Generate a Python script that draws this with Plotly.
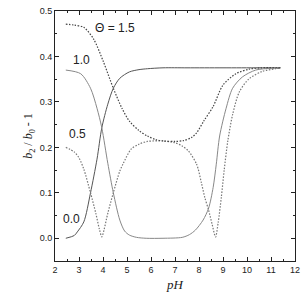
import plotly.graph_objects as go

# Theta = 0.0
ph_00 = [2.45, 2.8, 2.93, 3.2, 3.48, 3.75, 3.95, 4.2, 4.43, 4.7, 5.1, 5.5, 5.85, 6.5, 7.5, 9.0, 10.5, 11.4]
v_00 = [0.0, 0.006, 0.014, 0.036, 0.10, 0.174, 0.243, 0.295, 0.33, 0.352, 0.366, 0.371, 0.373, 0.375, 0.375, 0.375, 0.375, 0.375]

# Theta = 1.0
ph_10 = [2.45, 3.07, 3.48, 3.75, 3.95, 4.2, 4.43, 4.7, 4.9, 5.1, 5.4, 5.8, 6.5, 7.3, 7.6, 7.85, 8.17, 8.4, 8.59, 8.72, 8.86, 9.13, 9.4, 9.81, 10.36, 11.0, 11.4]
v_10 = [0.37, 0.362, 0.33, 0.286, 0.243, 0.165, 0.10, 0.04, 0.016, 0.007, 0.002, 0.0, 0.0, 0.002, 0.008, 0.018, 0.04, 0.066, 0.112, 0.163, 0.225, 0.286, 0.33, 0.355, 0.37, 0.374, 0.375]

# Theta = 0.5
ph_05 = [2.45, 2.8, 3.0, 3.2, 3.48, 3.7, 3.85, 3.95, 4.05, 4.2, 4.43, 4.7, 4.83, 5.17, 5.5, 5.85, 6.5, 7.0, 7.3, 7.56, 7.9, 8.1, 8.24, 8.4, 8.55, 8.69, 8.8, 8.93, 9.05, 9.2, 9.4, 9.68, 10.09, 10.63, 11.18, 11.4]
v_05 = [0.2, 0.19, 0.177, 0.152, 0.10, 0.055, 0.02, 0.003, 0.02, 0.055, 0.10, 0.148, 0.163, 0.196, 0.207, 0.213, 0.214, 0.21, 0.203, 0.192, 0.163, 0.122, 0.09, 0.062, 0.03, 0.003, 0.035, 0.09, 0.15, 0.214, 0.272, 0.322, 0.351, 0.367, 0.373, 0.375]

# Theta = 1.5
ph_15 = [2.45, 2.8, 3.2, 3.61, 4.02, 4.43, 4.8, 5.11, 5.5, 5.85, 6.2, 6.54, 7.0, 7.36, 7.7, 7.9, 8.2, 8.59, 9.0, 9.54, 10.09, 10.6, 11.4]
v_15 = [0.471, 0.469, 0.464, 0.438, 0.388, 0.33, 0.285, 0.257, 0.237, 0.225, 0.217, 0.214, 0.213, 0.215, 0.222, 0.232, 0.258, 0.29, 0.337, 0.362, 0.372, 0.375, 0.375]

labels = ["\u0398 = 1.5", "1.0", "0.5", "0.0"]

fig = go.Figure()
fig.add_trace(go.Scatter(x=ph_00, y=v_00, mode="lines", line=dict(color="#555555", width=1, shape="spline", smoothing=0.8)))
fig.add_trace(go.Scatter(x=ph_10, y=v_10, mode="lines", line=dict(color="#888888", width=1, shape="spline", smoothing=0.8)))
fig.add_trace(go.Scatter(x=ph_05, y=v_05, mode="lines", line=dict(color="#777777", width=1.2, dash="1.5px,1.5px", shape="spline", smoothing=0.8)))
fig.add_trace(go.Scatter(x=ph_15, y=v_15, mode="lines", line=dict(color="#444444", width=1.2, dash="1.5px,1.5px", shape="spline", smoothing=0.8)))

lab_font = dict(family="Liberation Sans, Arial", size=12, color="#222222")
fig.add_annotation(x=3.6, y=0.462, text=labels[0], showarrow=False, xanchor="left", font=lab_font)
fig.add_annotation(x=2.65, y=0.392, text=labels[1], showarrow=False, xanchor="left", font=lab_font)
fig.add_annotation(x=2.5, y=0.229, text=labels[2], showarrow=False, xanchor="left", font=lab_font)
fig.add_annotation(x=2.25, y=0.043, text=labels[3], showarrow=False, xanchor="left", font=lab_font)

axis_common = dict(showline=True, linecolor="#222222", linewidth=1, mirror="ticks",
                   ticks="inside", ticklen=4, tickcolor="#222222", showgrid=False, zeroline=False,
                   tickfont=dict(family="Liberation Sans, Arial", size=9, color="#222222"))
fig.update_xaxes(range=[2, 12], dtick=1, tick0=2,
                 minor=dict(ticks="inside", ticklen=2, dtick=0.5, tickcolor="#222222"),
                 title=dict(text="<i>pH</i>", font=dict(family="Liberation Serif, Times New Roman", size=13, color="#222222"), standoff=6),
                 **axis_common)
fig.update_yaxes(range=[-0.05, 0.5], dtick=0.1, tick0=0, tickformat=".1f",
                 minor=dict(ticks="inside", ticklen=2, dtick=0.05, tickcolor="#222222"),
                 title=dict(text="<i>b</i><sub>2</sub> / <i>b</i><sub>0</sub> - 1", font=dict(family="Liberation Serif, Times New Roman", size=12, color="#222222"), standoff=4),
                 **axis_common)
fig.update_layout(width=306, height=298, margin=dict(l=55, r=6, t=8, b=37),
                  plot_bgcolor="white", paper_bgcolor="white", showlegend=False)
fig.write_html("out.html")
